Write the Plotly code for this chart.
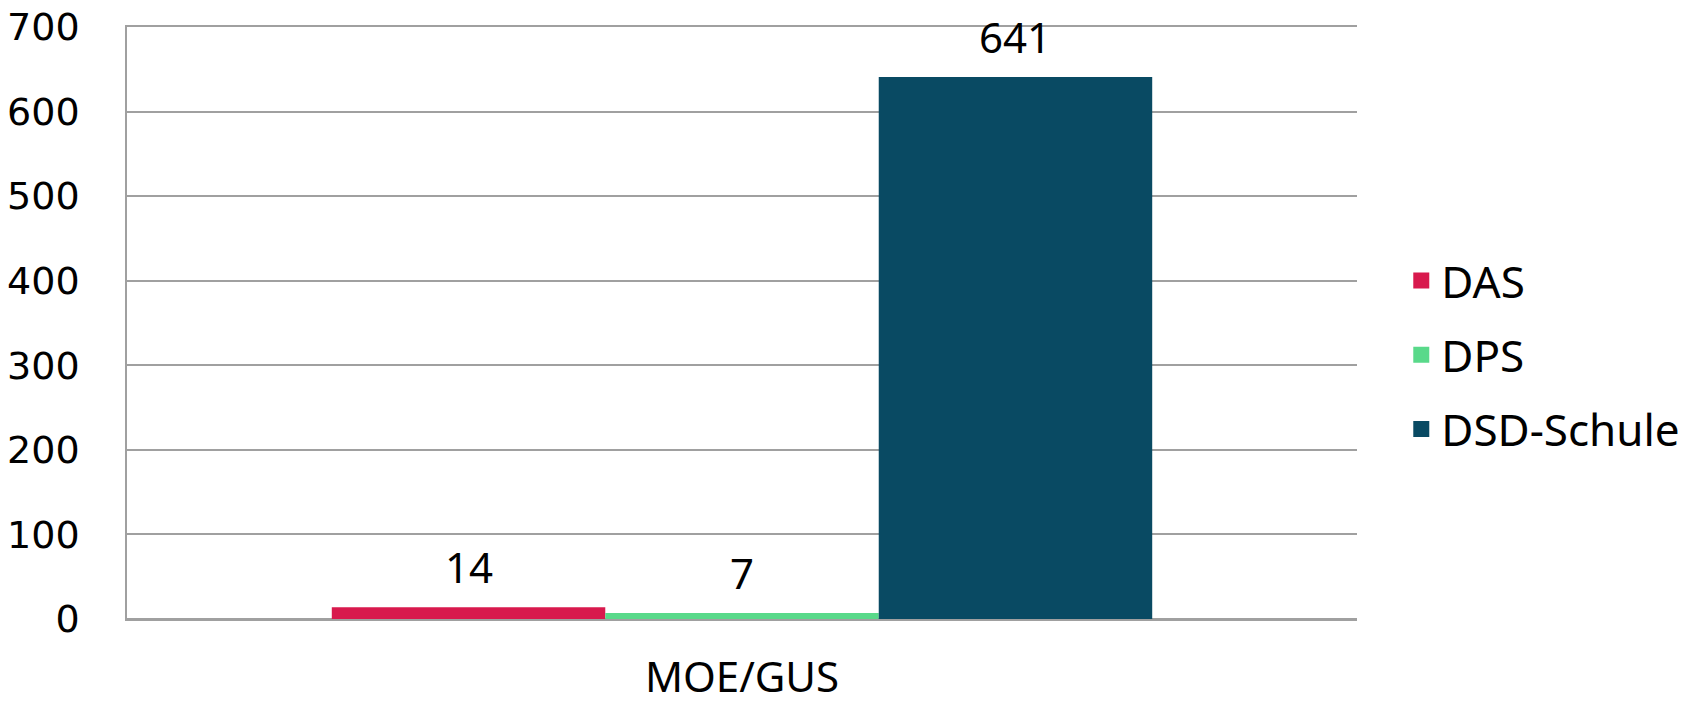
import plotly.graph_objects as go

categories = ['MOE/GUS']
series_names = ['DAS', 'DPS', 'DSD-Schule']
series_values = [[14], [7], [641]]
series_colors = ['#D8194D', '#59D98A', '#094A63']
y_ticks = [0, 100, 200, 300, 400, 500, 600, 700]

BAR_PX = 273  # width of one bar in pixels, used to place the value labels

fig = go.Figure()

for i, (name, vals, color) in enumerate(zip(series_names, series_values, series_colors)):
    fig.add_trace(go.Bar(
        x=categories,
        y=vals,
        name=name,
        marker=dict(color=color, line=dict(width=0)),
        showlegend=False,
    ))
    # value labels above the bars
    for cat, v in zip(categories, vals):
        fig.add_annotation(
            x=cat, y=v, text=str(v),
            xshift=(i - 1) * BAR_PX, yshift=10,
            yanchor='bottom', showarrow=False,
            font=dict(family='Noto Sans', size=42, color='black'),
        )

# legend entries with bigger square symbols
for name, color in zip(series_names, series_colors):
    fig.add_trace(go.Scatter(
        x=[None], y=[None],
        mode='markers',
        name=name,
        legendgroup=name,
        marker=dict(color=color, symbol='square', size=26),
    ))

fig.update_layout(
    width=1698,
    height=703,
    barmode='group',
    bargap=0.333,
    bargroupgap=0,
    plot_bgcolor='white',
    paper_bgcolor='white',
    margin=dict(l=127, r=341, t=27, b=84),
    font=dict(family='Noto Sans', color='black'),
    legend=dict(
        x=1.036, y=0.446, xanchor='left', yanchor='middle',
        font=dict(family='Noto Sans', size=44, color='black'),
        traceorder='grouped',
        tracegroupgap=14,
        itemwidth=30,
    ),
    xaxis=dict(
        automargin=False,
        showgrid=False,
        showline=True,
        mirror=True,
        linecolor='#A0A0A0',
        linewidth=1.5,
        ticks='',
        ticklabelstandoff=21,
        tickfont=dict(family='Noto Sans', size=42, color='black'),
    ),
    yaxis=dict(
        automargin=False,
        range=[0, 700],
        tickvals=y_ticks,
        ticklabeloverflow='allow',
        showgrid=True,
        gridcolor='#A0A0A0',
        gridwidth=1.5,
        showline=True,
        linecolor='#A0A0A0',
        linewidth=1.5,
        zeroline=True,
        zerolinecolor='#A0A0A0',
        zerolinewidth=1.5,
        ticks='',
        ticklabelstandoff=38,
        tickfont=dict(family='DejaVu Sans', size=38, color='black'),
    ),
)

# the page's default body margin would shift the figure by 8px
fig.write_html("out.html", config={'displayModeBar': False},
               post_script="document.body.style.margin='0';")
